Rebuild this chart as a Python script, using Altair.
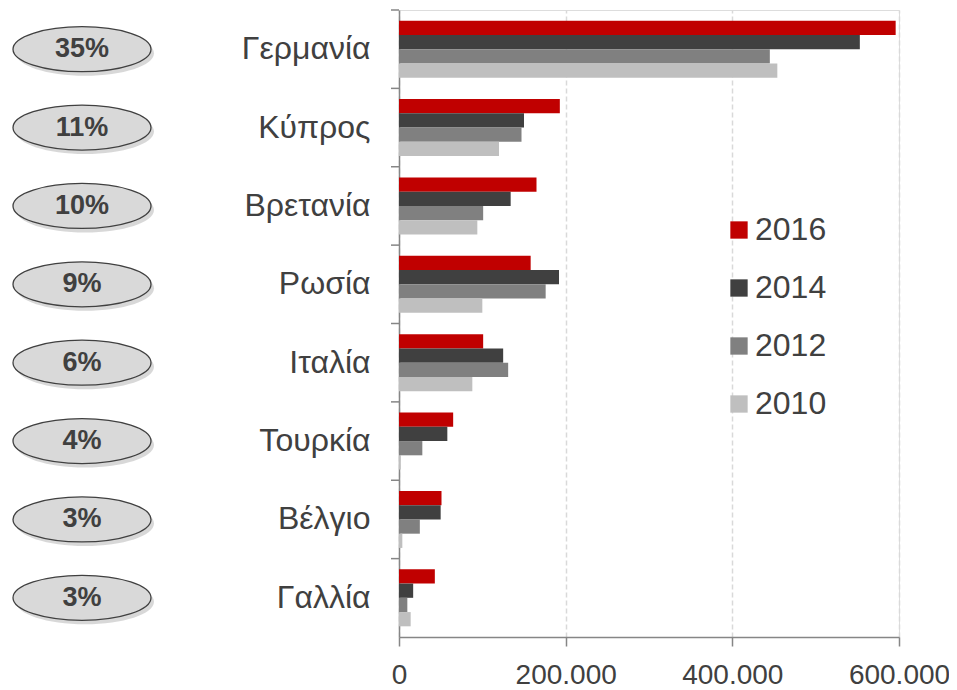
import altair as alt
import pandas as pd

countries = ["Γερμανία", "Κύπρος", "Βρετανία", "Ρωσία", "Ιταλία", "Τουρκία", "Βέλγιο", "Γαλλία"]
years = ["2016", "2014", "2012", "2010"]
v2016 = [596000, 193000, 165000, 158000, 101000, 65000, 51000, 43000]
v2014 = [553000, 150000, 134000, 192000, 125000, 58000, 50000, 17000]
v2012 = [445000, 147000, 101000, 176000, 131000, 28000, 25000, 10000]
v2010 = [454000, 120000, 94000, 100000, 88000, 2000, 4000, 14000]
shares = ["35%", "11%", "10%", "9%", "6%", "4%", "3%", "3%"]
colors = ["#C00000", "#404040", "#808080", "#BFBFBF"]
x_ticks = [0, 200000, 400000, 600000]

rows = []
for yr, vals in zip(years, [v2016, v2014, v2012, v2010]):
    for c, v in zip(countries, vals):
        rows.append({"country": c, "year": yr, "value": v})
df = pd.DataFrame(rows)
dfc = pd.DataFrame({"country": countries, "share": shares})

FONT = "Liberation Sans"

yaxis = alt.Axis(title=None, ticks=False, tickSize=0, labelPadding=29, labelFontSize=32,
                 labelColor="#404040", labelFont=FONT, domainColor="#868686",
                 domainWidth=1.5, grid=False)
yenc = alt.Y("country:N", sort=countries,
             scale=alt.Scale(paddingInner=0, paddingOuter=0), axis=yaxis)

bars = alt.Chart(df).mark_bar().encode(
    x=alt.X("value:Q", scale=alt.Scale(domain=[0, 600000], nice=False),
            axis=alt.Axis(title=None, values=x_ticks,
                          labelExpr="replace(format(datum.value, ',.0f'), ',', '.')",
                          labelFontSize=28, labelColor="#404040", labelFont=FONT,
                          labelPadding=15, labelFlush=False, labelOverlap=False,
                          tickSize=9, tickColor="#868686", tickWidth=1.5,
                          domainColor="#868686", domainWidth=1.5,
                          grid=True, gridDash=[5, 3], gridColor="#D9D9D9", gridWidth=1.5)),
    y=yenc,
    yOffset=alt.YOffset("year:N", sort=years,
                        scale=alt.Scale(domain=years, paddingInner=0, paddingOuter=0.75)),
    color=alt.Color("year:N", sort=years,
                    scale=alt.Scale(domain=years, range=colors),
                    legend=alt.Legend(title=None, orient="none", legendX=324, legendY=204,
                                      padding=0, symbolType="square", symbolSize=300,
                                      symbolStrokeWidth=0, labelFontSize=32,
                                      labelColor="#404040", labelFont=FONT,
                                      labelOffset=0, rowPadding=26)),
)

band_ticks = alt.Chart(dfc).mark_rule(color="#868686", strokeWidth=1.5).encode(
    y=alt.Y("country:N", sort=countries, bandPosition=0,
            scale=alt.Scale(paddingInner=0, paddingOuter=0), axis=yaxis),
    x=alt.value(-8), x2=alt.value(0),
)

ellipse_path = "M-1,0A1,0.326,0,1,1,1,0A1,0.326,0,1,1,-1,0Z"

shadow = alt.Chart(dfc).mark_point(shape=ellipse_path, size=19044, filled=True,
                                   fill="#7F7F7F", opacity=0.3, strokeWidth=0,
                                   xOffset=3, yOffset=4).encode(
    y=yenc, x=alt.value(-317))

ellipses = alt.Chart(dfc).mark_point(shape=ellipse_path, size=19044, filled=True,
                                     fill="#D9D9D9", stroke="#404040", strokeWidth=1.3,
                                     opacity=1).encode(
    y=yenc, x=alt.value(-317))

labels = alt.Chart(dfc).mark_text(fontSize=27, fontWeight="bold", color="#404040",
                                  font=FONT, baseline="middle", align="center").encode(
    y=yenc, x=alt.value(-317), text="share:N")

chart = alt.layer(bars, band_ticks, shadow, ellipses, labels).properties(
    width=500, height=627,
    autosize=alt.AutoSizeParams(type="none"),
    padding={"left": 391, "top": 2, "right": 50, "bottom": 53},
).configure_view(stroke=None).configure(font=FONT)

chart.save("out.html", embed_options={"renderer": "svg", "actions": False})
